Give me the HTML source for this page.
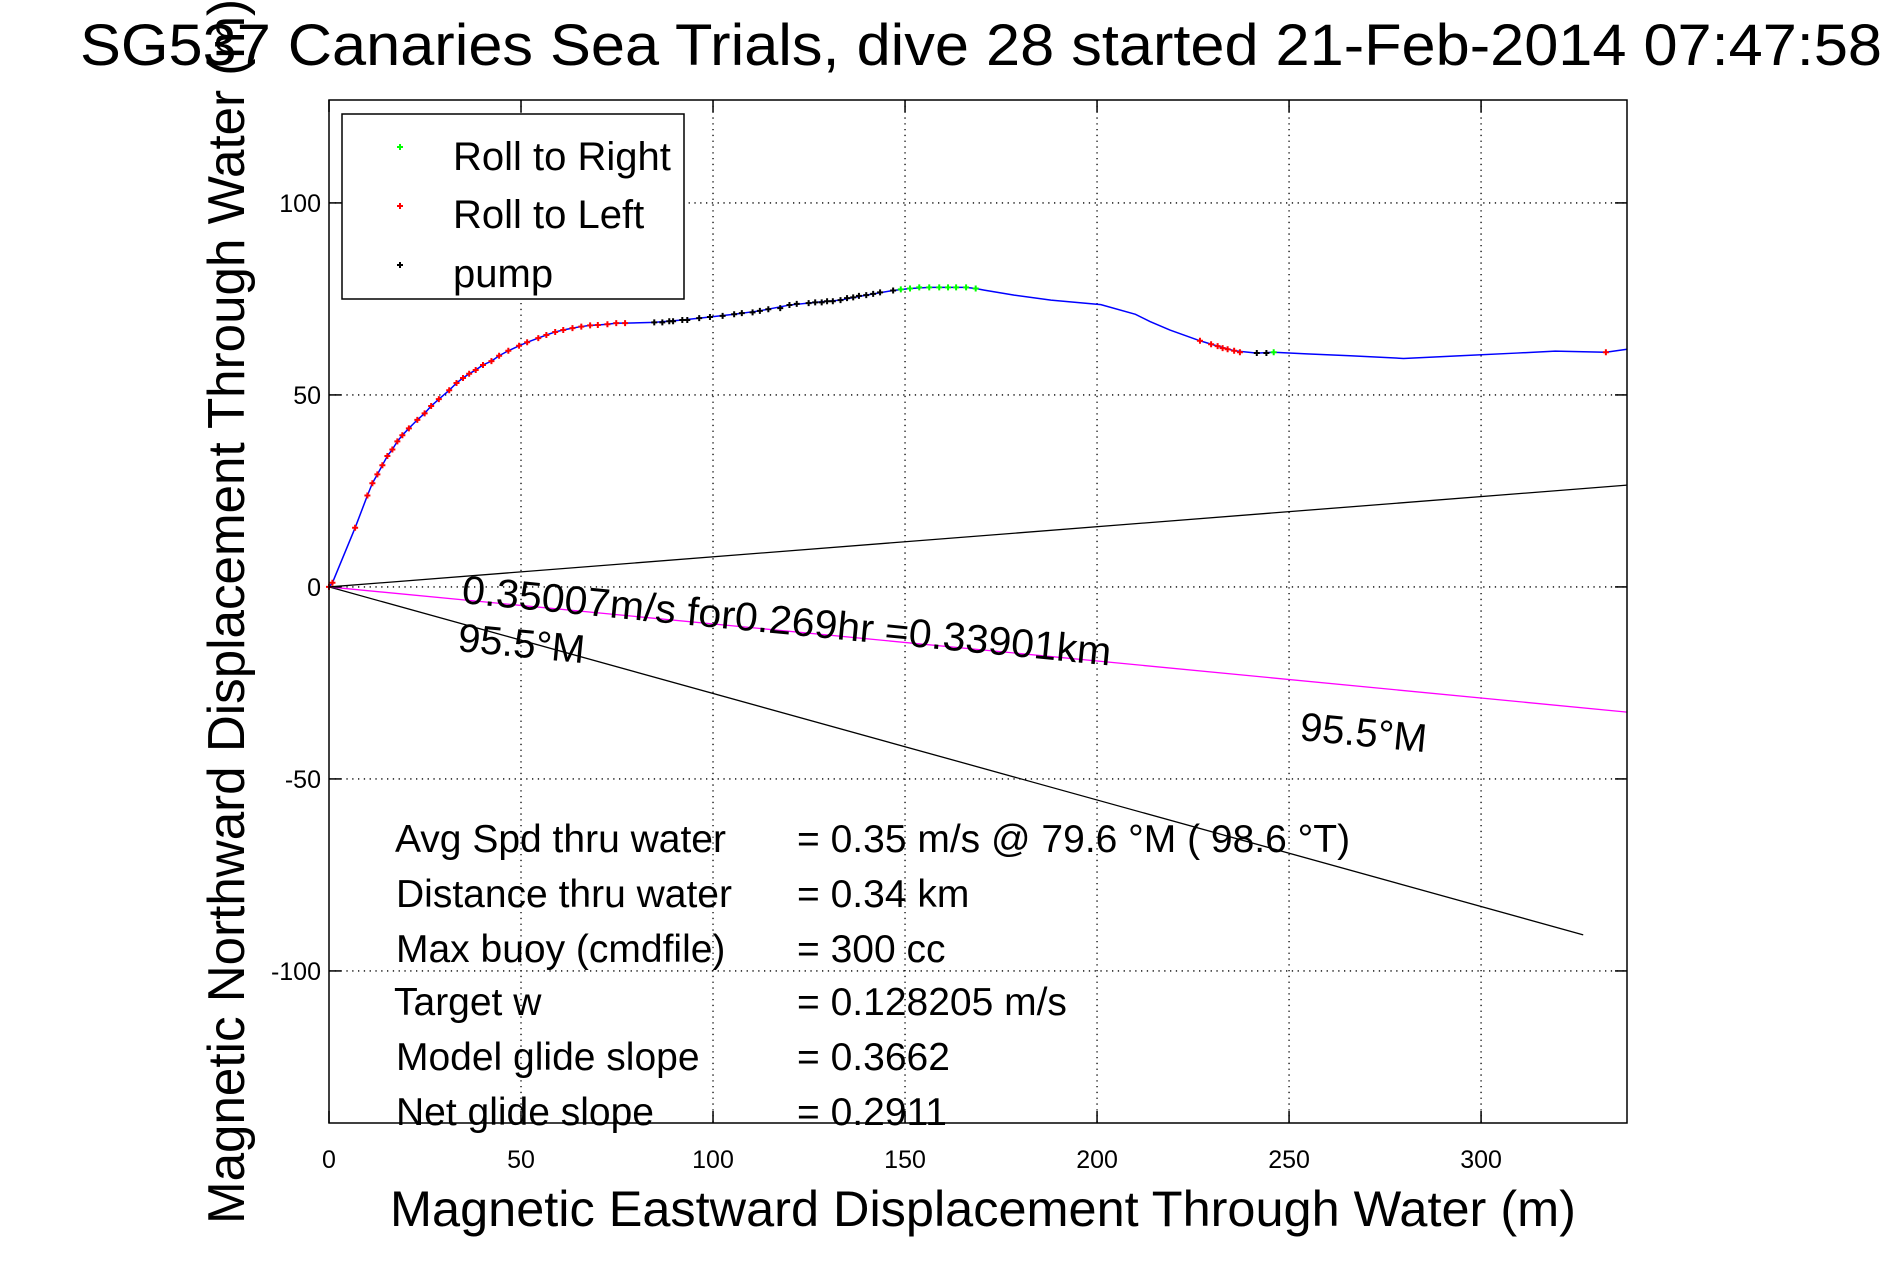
<!DOCTYPE html>
<html><head><meta charset="utf-8"><style>
html,body{margin:0;padding:0;background:#fff;}
svg{display:block;font-family:"Liberation Sans",sans-serif;}
</style></head><body>
<svg id="chart" width="1891" height="1262" viewBox="0 0 1891 1262" xmlns="http://www.w3.org/2000/svg">
<rect x="0" y="0" width="1891" height="1262" fill="#fff"/>
<g id="grid"></g>
<g id="lines"></g>
<g id="marks"></g>
<rect x="329" y="100" width="1298" height="1023" fill="none" stroke="#000" stroke-width="1.5"/>
<g id="ticks" font-size="25"></g>
<g>
<rect x="342" y="114" width="342" height="185" fill="#fff" stroke="#000" stroke-width="1.5"/>
<g id="legmarks"></g>
<text x="453" y="170" font-size="40">Roll to Right</text>
<text x="453" y="228" font-size="40">Roll to Left</text>
<text x="453" y="287" font-size="40">pump</text>
</g>
<text x="461" y="603" font-size="40" transform="rotate(5.5 461 603)" textLength="652" lengthAdjust="spacingAndGlyphs">0.35007m/s for0.269hr =0.33901km</text>
<text x="457" y="651" font-size="40" transform="rotate(5.5 457 651)">95.5°M</text>
<text x="1299" y="740" font-size="40" transform="rotate(5.5 1299 740)">95.5°M</text>
<g font-size="39">
<text x="395" y="852">Avg Spd thru water</text><text x="797" y="852">=  0.35 m/s @  79.6 °M ( 98.6 °T)</text>
<text x="396" y="907">Distance thru water</text><text x="797" y="907">=  0.34 km</text>
<text x="396" y="962">Max buoy (cmdfile)</text><text x="797" y="962">= 300 cc</text>
<text x="394" y="1015">Target w</text><text x="797" y="1015">= 0.128205 m/s</text>
<text x="396" y="1070">Model glide slope</text><text x="797" y="1070">= 0.3662</text>
<text x="396" y="1125">Net glide slope</text><text x="797" y="1125">= 0.2911</text>
</g>
<text x="983" y="1226" font-size="50" text-anchor="middle" textLength="1186" lengthAdjust="spacingAndGlyphs">Magnetic Eastward Displacement Through Water (m)</text>
<text x="0" y="0" font-size="52" transform="translate(244 1224) rotate(-90)" textLength="1225" lengthAdjust="spacingAndGlyphs">Magnetic Northward Displacement Through Water (m)</text>
<text x="80" y="65" font-size="58" textLength="1802" lengthAdjust="spacingAndGlyphs">SG537 Canaries Sea Trials, dive 28 started 21-Feb-2014 07:47:58</text>
</svg>
<script>
const trackX = [0,0.9,6.8,10,11.3,12.6,13.9,15.2,16.5,17.8,19.1,20.8,23,24.9,26.6,28.6,31.3,33.2,34.9,36.5,38.2,40.1,42.3,44.3,46.7,49.5,51.6,54.5,56.6,58.9,61,63.4,65.7,68,70,72.5,74.8,77.1,84.7,92,99.2,105.5,112.2,119.9,126.6,133.2,139.9,146.9,151.3,156.3,161.2,165.9,168.4,170.6,178.4,188,201,210,213.8,219,226.8,231.4,235.7,241.6,246,254.6,265.9,279.8,294.6,309.3,319.3,332.5,338];
const trackY = [0,1.1,15.4,23.8,27,29.3,31.7,34.1,35.8,37.9,39.5,41.3,43.5,45.2,47.1,48.9,51.2,53.1,54.4,55.5,56.5,57.8,58.8,60.2,61.5,62.8,63.7,64.8,65.6,66.4,66.9,67.4,67.8,68.1,68.2,68.4,68.7,68.7,68.9,69.5,70.3,71,71.9,73.4,74.1,74.7,76,77.2,77.7,78,78,78,77.7,77.3,76,74.7,73.5,71,69.1,66.9,64.1,62.7,61.5,60.9,61.1,60.7,60.2,59.5,60.2,60.9,61.4,61.1,61.9];
const rightX = [148.9,151.3,153.7,156.3,158.9,161.2,163.3,165.9,168.4,246];
const rightY = [77.5,77.7,78,78,78,78,78,78,77.7,61.1];
const leftX = [0,0.9,6.8,10,11.3,12.6,13.9,15.2,16.5,17.8,19.1,20.8,23,24.9,26.6,28.6,31.3,33.2,34.9,36.5,38.2,40.1,42.3,44.3,46.7,49.5,51.6,54.5,56.6,58.9,61,63.4,65.7,68,70,72.5,74.8,77.1,226.8,229.7,231.4,232.7,234,235.7,237.2,332.5];
const leftY = [0,1.1,15.4,23.8,27,29.3,31.7,34.1,35.8,37.9,39.5,41.3,43.5,45.2,47.1,48.9,51.2,53.1,54.4,55.5,56.5,57.8,58.8,60.2,61.5,62.8,63.7,64.8,65.6,66.4,66.9,67.4,67.8,68.1,68.2,68.4,68.7,68.7,64.1,63.2,62.7,62.2,61.9,61.5,61.1,61.1];
const pumpX = [84.7,86.8,88.6,89.6,92,93.3,96.4,99.2,102.5,105.5,107.5,110.3,112.2,114.4,117.5,119.9,121.8,124.9,126.6,128.3,129.7,131.2,133.2,134.9,136.5,138,139.9,141.7,143.5,146.9,241.6,244.1];
const pumpY = [68.9,68.9,69.2,69.2,69.5,69.5,70,70.3,70.6,71,71.3,71.5,71.9,72.3,72.6,73.4,73.7,73.9,74.1,74.1,74.4,74.4,74.7,75.2,75.4,75.8,76,76.3,76.7,77.2,60.9,60.9];
const upperLine = [[0,0],[338,26.5]];
const headingLine = [[0,0],[338,-32.6]];
const lowerLine = [[0,0],[326.6,-90.6]];
const xTicks = [0,50,100,150,200,250,300];
const yTicks = [-100,-50,0,50,100];
const xTickLabels = ["0","50","100","150","200","250","300"];
const yTickLabels = ["-100","-50","0","50","100"];

const NS='http://www.w3.org/2000/svg';
const L=329,R=1627,T=100,B=1123,X0=0,X1=338,Y0=-139.6,Y1=126.8;
function sx(v){return L+(v-X0)/(X1-X0)*(R-L);}
function sy(v){return B-(v-Y0)/(Y1-Y0)*(B-T);}
function mk(tag,attrs,parent){const e=document.createElementNS(NS,tag);for(const k in attrs)e.setAttribute(k,attrs[k]);parent.appendChild(e);return e;}
const grid=document.getElementById('grid'),ticks=document.getElementById('ticks'),lines=document.getElementById('lines'),marks=document.getElementById('marks');
xTicks.forEach((v,i)=>{
  const x=sx(v);
  if(i>0){const g=mk('line',{x1:x,x2:x,y1:T,y2:B,stroke:'#000','stroke-width':1.3,'stroke-dasharray':'1.3 4.5'},grid);
  
  }
  mk('line',{x1:x,x2:x,y1:B,y2:B-12,stroke:'#000','stroke-width':1.5},ticks);
  mk('line',{x1:x,x2:x,y1:T,y2:T+12,stroke:'#000','stroke-width':1.5},ticks);
  const t=mk('text',{x:x,y:1168,'text-anchor':'middle'},ticks);t.textContent=xTickLabels[i];
  
  
});
yTicks.forEach((v,i)=>{
  const y=sy(v);
  const g=mk('line',{x1:L,x2:R,y1:y,y2:y,stroke:'#000','stroke-width':1.3,'stroke-dasharray':'1.3 4.5'},grid);
  
  
  mk('line',{x1:L,x2:L+12,y1:y,y2:y,stroke:'#000','stroke-width':1.5},ticks);
  mk('line',{x1:R,x2:R-12,y1:y,y2:y,stroke:'#000','stroke-width':1.5},ticks);
  const t=mk('text',{x:321,y:y+9,'text-anchor':'end'},ticks);t.textContent=yTickLabels[i];
  
  
});
function seg(p,color,name){const l=mk('line',{x1:sx(p[0][0]),y1:sy(p[0][1]),x2:sx(p[1][0]),y2:sy(p[1][1]),stroke:color,'stroke-width':1.3},lines);
  
  }
seg(upperLine,'#000','upper-bound-line');
seg(lowerLine,'#000','lower-bound-line');
seg(headingLine,'#ff00ff','heading-line');
const tp=mk('polyline',{points:trackX.map((x,i)=>sx(x)+','+sy(trackY[i])).join(' '),fill:'none',stroke:'#0000ff','stroke-width':1.5},lines);


function plus(x,y,c,parent,name){const p=mk('path',{d:`M${x-3} ${y}h6M${x} ${y-3}v6`,stroke:c,'stroke-width':2},parent);
  
  }
leftX.forEach((x,i)=>plus(sx(x),sy(leftY[i]),'#ff0000',marks,'roll-left-point'));
pumpX.forEach((x,i)=>plus(sx(x),sy(pumpY[i]),'#000000',marks,'pump-point'));
rightX.forEach((x,i)=>plus(sx(x),sy(rightY[i]),'#00ff00',marks,'roll-right-point'));
const lm=document.getElementById('legmarks');
plus(400,147,'#00ff00',lm,'legend-marker-right');
plus(400,206,'#ff0000',lm,'legend-marker-left');
plus(400,265,'#000000',lm,'legend-marker-pump');
</script>
</body></html>
